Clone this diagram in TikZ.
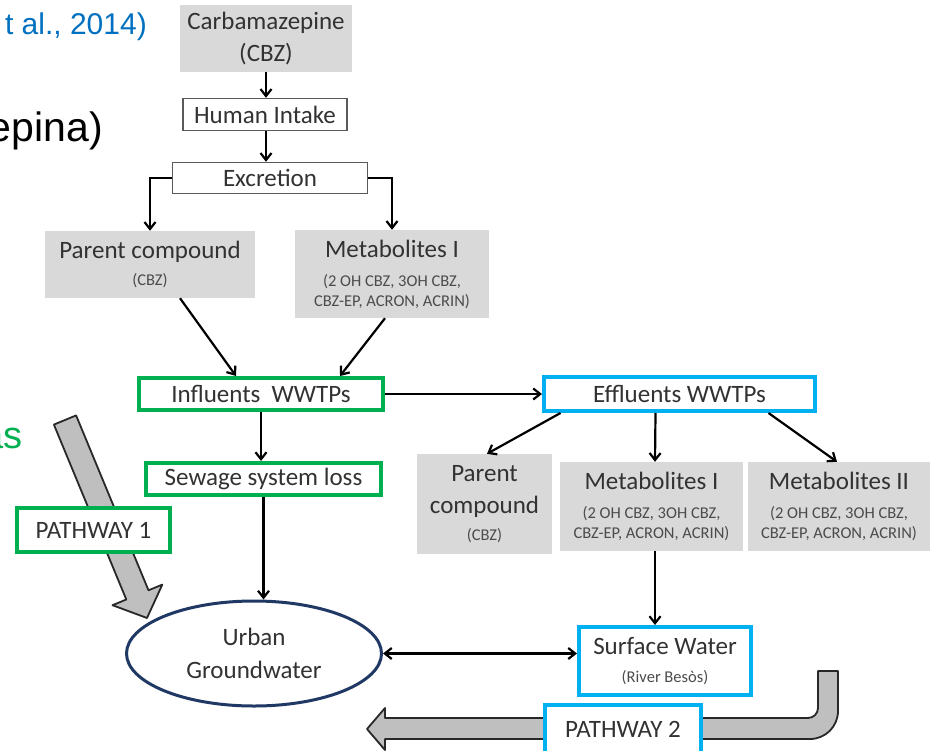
\documentclass[tikz,border=0pt]{standalone}
\usepackage{fontspec}
\setmainfont{Carlito}
\newfontfamily\arialf{Liberation Sans}
\usetikzlibrary{arrows.meta,calc,shapes.geometric}
\definecolor{boxgray}{RGB}{217,217,217}
\definecolor{txt}{RGB}{50,50,50}
\definecolor{txtlight}{RGB}{75,75,75}
\definecolor{edgegray}{RGB}{90,90,90}
\definecolor{grn}{RGB}{0,176,80}
\definecolor{blu}{RGB}{0,176,240}
\definecolor{navy}{RGB}{31,56,100}
\definecolor{arrowfill}{RGB}{191,191,191}
\definecolor{arrowline}{RGB}{40,40,40}
\definecolor{citeblue}{RGB}{0,112,192}
\newcommand\bigtxt{\fontsize{25}{30}\selectfont}
\newcommand\smalltxt{\fontsize{16.5}{20}\selectfont\color{txtlight}}
\tikzset{
  basebox/.style={rectangle, inner sep=0pt, align=center, text=txt, font=\bigtxt},
  graybox/.style={basebox, fill=boxgray, draw=none},
  plainbox/.style={basebox, fill=white, draw=edgegray, line width=1.4pt},
  greenbox/.style={basebox, fill=white, draw=grn, line width=4pt},
  bluebox/.style={basebox, fill=white, draw=blu, line width=4pt},
  conn/.style={draw=black, line width=2.2pt, -{Straight Barb[length=7pt,width=11pt]}},
  dconn/.style={draw=black, line width=2.2pt, {Straight Barb[length=7pt,width=11pt]}-{Straight Barb[length=7pt,width=11pt]}},
  bigarrow/.style={fill=arrowfill, draw=arrowline, line width=1.8pt, line join=round},
}
\begin{document}
\begin{tikzpicture}[x=1pt,y=-1pt]
\useasboundingbox (0,0) rectangle (933,751);
\clip (0,0) rectangle (933,751);
\fill[white] (0,0) rectangle (933,751);

% fragments of surrounding slide text
\node[anchor=base east, inner sep=0pt, text=citeblue, font=\arialf\fontsize{30}{36}\selectfont] (cite) at (147,35) {t al., 2014)};
\node[anchor=base east, inner sep=0pt, text=black, font=\arialf\fontsize{41}{48}\selectfont] (title) at (103,142) {epina)};
\node[anchor=base east, inner sep=0pt, text=grn, font=\arialf\fontsize{38}{46}\selectfont] (asfrag) at (23,448) {as};

% big pathway arrows
\draw[bigarrow] (53.9,424.6) -- (76.1,415.4) -- (148.5,590.3) -- (162.3,584.6) -- (147,618) -- (112.5,605.2) -- (126.3,599.5) -- cycle;
\draw[bigarrow] (818,671) -- (838,671) -- (838,711) arc[start angle=0,end angle=90,radius=28]
  -- (385,739) -- (385,750) -- (367,729) -- (385,708) -- (385,718) -- (808,718)
  arc[start angle=90,end angle=0,radius=10] -- cycle;

% nodes
\node[graybox, minimum width=172pt, minimum height=67pt] (cbz) at (266,38.5) {Carbamazepine\\[2pt](CBZ)};
\node[plainbox, minimum width=164pt, minimum height=32pt] (intake) at (265,114.5) {Human Intake};
\node[plainbox, minimum width=195pt, minimum height=31pt] (excr) at (270,178) {Excretion};
\node[graybox, minimum width=210pt, minimum height=67pt] (par1) at (150,264.5) {Parent compound\\[-3pt]{\smalltxt (CBZ)}};
\node[graybox, minimum width=194pt, minimum height=88pt] (met1) at (392,274) {Metabolites I\\[-1pt]{\smalltxt (2 OH CBZ, 3OH CBZ,}\\[-10pt]{\smalltxt CBZ-EP, ACRON, ACRIN)}};
\node[greenbox, minimum width=244pt, minimum height=32pt] (infl) at (261,394) {Influents\ \ WWTPs};
\node[bluebox, minimum width=271pt, minimum height=34pt] (effl) at (679.5,394) {Effluents WWTPs};
\node[greenbox, minimum width=235pt, minimum height=32pt] (sew) at (263.5,479) {Sewage system loss};
\node[graybox, minimum width=135pt, minimum height=100pt] (par2) at (484.5,504) {Parent\\[2pt]compound\\[-3pt]{\smalltxt (CBZ)}};
\node[graybox, minimum width=183pt, minimum height=89pt] (met2) at (651.5,506.5) {Metabolites I\\[-1pt]{\smalltxt (2 OH CBZ, 3OH CBZ,}\\[-10pt]{\smalltxt CBZ-EP, ACRON, ACRIN)}};
\node[graybox, minimum width=182pt, minimum height=89pt] (met3) at (839,506.5) {Metabolites II\\[-1pt]{\smalltxt (2 OH CBZ, 3OH CBZ,}\\[-10pt]{\smalltxt CBZ-EP, ACRON, ACRIN)}};
\node[ellipse, draw=navy, line width=3pt, fill=white, inner sep=0pt, minimum width=255pt, minimum height=105pt, align=center, text=txt, font=\bigtxt] (ugw) at (254,653.5) {Urban\\[3pt]Groundwater};
\node[bluebox, minimum width=172pt, minimum height=68pt] (sw) at (665,661) {Surface Water\\[-2pt]{\smalltxt (River Besòs)}};
\node[bluebox, minimum width=156pt, minimum height=48pt] (pw2) at (623,729) {PATHWAY 2};
\node[greenbox, minimum width=153pt, minimum height=44pt] (pw1) at (93.5,530) {PATHWAY 1};

% connectors
\draw[conn] (cbz.south) -- (cbz.south |- intake.north);
\draw[conn] (cbz.south |- intake.south) -- (cbz.south |- excr.north);
\draw[conn] (excr.west) -| (par1.north);
\draw[conn] (excr.east) -| (met1.north);
\draw[conn] ($(par1.south)+(30,0)$) -- ($(infl.north)+(-25,0)$);
\draw[conn] ($(met1.south)+(-7,0)$) -- ($(infl.north)+(79,0)$);
\draw[conn] (infl.east) -- (effl.west);
\draw[conn] (infl.south) -- (infl.south |- sew.north);
\draw[conn] (sew.south) -- (sew.south |- ugw.north);
\draw[conn] ($(effl.south)+(-119,0)$) -- ($(par2.north)+(2.5,0)$);
\draw[conn] ($(effl.south)+(-24,0)$) -- ($(met2.north)+(3.5,0)$);
\draw[conn] ($(effl.south)+(89,0)$) -- ($(met3.north)+(-2,0)$);
\coordinate (m2b) at ($(met2.south)+(3.5,0)$);
\draw[conn] (m2b) -- (m2b |- sw.north);
\draw[dconn] (ugw.east) -- (ugw.east -| sw.west);
\end{tikzpicture}
\end{document}
